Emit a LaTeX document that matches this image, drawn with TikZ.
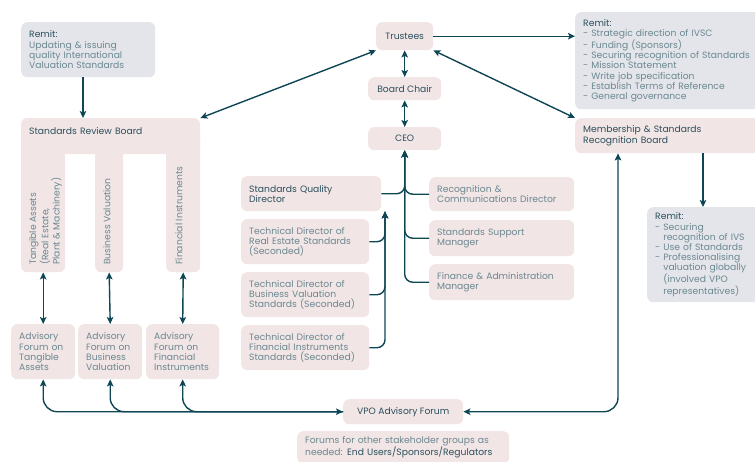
\documentclass[tikz,border=0pt]{standalone}
\usepackage{fontspec}
\setmainfont{Poppins}
\usetikzlibrary{arrows.meta,calc}
\definecolor{pinkc}{HTML}{F1E5E5}
\definecolor{grayc}{HTML}{E3E5EA}
\definecolor{linec}{HTML}{0E4655}
\definecolor{lightt}{HTML}{6B8890}
\definecolor{darkt}{HTML}{2B505C}
\begin{document}
\begin{tikzpicture}[x=1pt,y=-1pt,
  >={Stealth[length=7pt,width=6.5pt,inset=1.5pt]},
  every node/.style={font=\fontsize{9.2}{10.2}\selectfont, inner sep=0pt},
  pbox/.style={fill=pinkc, rounded corners=6pt, anchor=north west, inner xsep=8pt, align=left, text=lightt},
  gbox/.style={pbox, fill=grayc},
  cbox/.style={fill=pinkc, rounded corners=6pt, anchor=north west, align=center, text=darkt},
  conn/.style={draw=linec, line width=1.4pt},
  arr/.style={conn, ->},
  rarr/.style={conn, <-},
  dbl/.style={conn, <->},
  vtext/.style={rotate=90, align=left, text=lightt}
]
\useasboundingbox (0,0) rectangle (755,461);

% Remit boxes
\node[gbox, minimum width=134pt, minimum height=55pt, text width=118pt] (remit1) at (21,22)
  {{\color{darkt}Remit:}\\Updating \& issuing\\quality International\\Valuation Standards};
\node[gbox, minimum width=190pt, minimum height=97pt, text width=174pt] (remit2) at (575,12)
  {{\color{darkt}Remit:}\\- Strategic direction of IVSC\\- Funding (Sponsors)\\- Securing recognition of Standards\\- Mission Statement\\- Write job specification\\- Establish Terms of Reference\\- General governance};
\node[gbox, minimum width=118pt, minimum height=95pt, text width=102pt] (remit3) at (647,207)
  {{\color{darkt}Remit:}\\- Securing\\\hphantom{- }recognition of IVS\\- Use of Standards\\- Professionalising\\\hphantom{- }valuation globally\\\hphantom{- }(involved VPO\\\hphantom{- }representatives)};

% Governance
\node[cbox, minimum width=57pt, minimum height=28pt] (trustees) at (376,22) {Trustees};
\node[cbox, minimum width=73pt, minimum height=23pt] (chair) at (368,77) {Board Chair};
\node[cbox, minimum width=73pt, minimum height=23pt] (ceo) at (368,127) {CEO};
\node[pbox, text=darkt, minimum width=190pt, minimum height=35pt, text width=174pt] (msrb) at (575,118)
  {Membership \& Standards\\Recognition Board};

% Standards Review Board (comb shape)
\fill[pinkc, rounded corners=6pt] (21,118) rectangle (200,154);
\node[fill=pinkc, rounded corners=6pt, anchor=north west, minimum width=44pt, minimum height=142pt] (leg1) at (21,130) {};
\node[fill=pinkc, rounded corners=6pt, anchor=north west, minimum width=28pt, minimum height=142pt] (leg2) at (95,130) {};
\node[fill=pinkc, rounded corners=6pt, anchor=north west, minimum width=34pt, minimum height=142pt] (leg3) at (166,130) {};
\node[anchor=north west, minimum width=179pt, minimum height=26pt, inner xsep=8pt, text width=163pt, align=left, text=darkt] (srb) at (21,118) {Standards Review Board};
\node[vtext, anchor=north west] (leg1t) at (29,265) {Tangible Assets\\(Real Estate,\\Plant \& Machinery)};
\node[vtext, anchor=west] (leg2t) at (107,265) {Business Valuation};
\node[vtext, anchor=west] (leg3t) at (179,265) {Financial Instruments};

% Advisory forums
\node[pbox, minimum width=64pt, minimum height=55pt, text width=48pt] (af1) at (11,324) {Advisory\\Forum on\\Tangible\\Assets};
\node[pbox, minimum width=64pt, minimum height=55pt, text width=48pt] (af2) at (78,324) {Advisory\\Forum on\\Business\\Valuation};
\node[pbox, minimum width=73pt, minimum height=55pt, text width=57pt] (af3) at (146,324) {Advisory\\Forum on\\Financial\\Instruments};

% Staff
\node[pbox, text=darkt, minimum width=140pt, minimum height=35pt, text width=124pt] (sqd) at (241,176) {Standards Quality\\Director};
\node[pbox, minimum width=128pt, minimum height=45pt, text width=112pt] (tdre) at (241,219) {Technical Director of\\Real Estate Standards\\(Seconded)};
\node[pbox, minimum width=128pt, minimum height=45pt, text width=112pt] (tdbv) at (241,272) {Technical Director of\\Business Valuation\\Standards (Seconded)};
\node[pbox, minimum width=128pt, minimum height=45pt, text width=112pt] (tdfi) at (241,325) {Technical Director of\\Financial Instruments\\Standards (Seconded)};
\node[pbox, minimum width=145pt, minimum height=34pt, text width=129pt] (rcd) at (429,177) {Recognition \&\\Communications Director};
\node[pbox, minimum width=145pt, minimum height=36pt, text width=129pt] (ssm) at (429,220) {Standards Support\\Manager};
\node[pbox, minimum width=145pt, minimum height=36pt, text width=129pt] (fam) at (429,264) {Finance \& Administration\\Manager};

% VPO
\node[cbox, minimum width=120pt, minimum height=25pt] (vpo) at (343,399) {VPO Advisory Forum};
\node[pbox, minimum width=212pt, minimum height=32pt, text width=196pt] (forums) at (297,431)
  {Forums for other stakeholder groups as\\needed: {\color{darkt}End Users/Sponsors/Regulators}};

% Connectors
\draw[arr] ($(remit1.south west)+(62,0)$) -- ($(srb.north west)+(62,0)$);
\draw[dbl] (trustees.south west) -- (srb.north east);
\draw[dbl] (trustees.south east) -- (msrb.north west);
\draw[arr] (trustees.east) -- (trustees.east -| remit2.west);
\draw[dbl] (trustees) -- (chair);
\draw[dbl] (chair) -- (ceo);
\draw[arr] ($(msrb.south west)+(128,0)$) -- ($(remit3.north west)+(56,0)$);

\draw[arr, rounded corners=8pt] (sqd.east) -| (ceo.south);
\draw[arr, rounded corners=8pt] (rcd.west) -| (ceo.south);
\draw[arr, rounded corners=8pt] (ssm.west) -| (ceo.south);
\draw[arr, rounded corners=8pt] (fam.west) -| (ceo.south);

\coordinate (q) at ($(sqd.south west)+(144,0)$);
\draw[arr, rounded corners=8pt] (tdre.east) -| (q);
\draw[arr, rounded corners=8pt] (tdbv.east) -| (q);
\draw[arr, rounded corners=8pt] (tdfi.east) -| (q);

\draw[dbl] (leg1.south) -- (af1.north);
\draw[dbl] (leg2.south) -- (af2.north);
\draw[dbl] (leg3.south) -- (af3.north);

\draw[dbl, rounded corners=14pt] (af1.south) |- (vpo.west);
\draw[rarr, rounded corners=14pt] (af2.south) |- (vpo.west);
\draw[rarr, rounded corners=14pt] (af3.south) |- (vpo.west);
\draw[dbl, rounded corners=14pt] (vpo.east) -| ($(msrb.south west)+(43,0)$);
\end{tikzpicture}
\end{document}
